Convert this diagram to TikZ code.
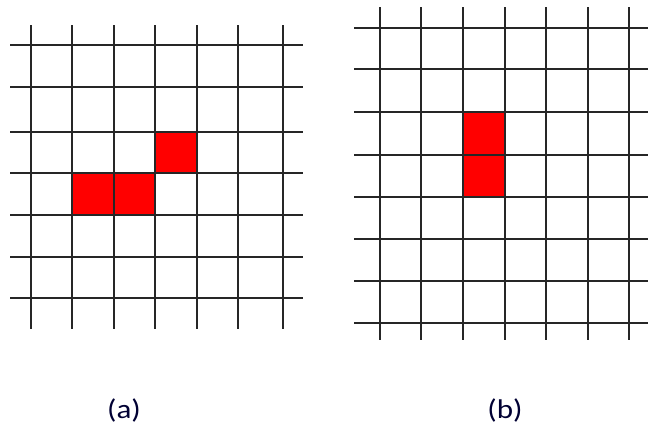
\documentclass[tikz,border=0pt]{standalone}
\usepackage{fontspec}
\setmainfont{Carlito}
\begin{document}
\begin{tikzpicture}[x=1pt,y=-1pt,
  gridline/.style={line width=2pt,black!85},
  cell/.style={fill=red,draw=none},
  caption/.style={font=\fontsize{27}{30}\selectfont,text=black!80!blue,xscale=1.15}]
\useasboundingbox (0,0) rectangle (648,432);
% grid (a)
\fill[cell] (73,173) rectangle (156,215);
\fill[cell] (156,131.7) rectangle (197,173);
\foreach \x in {30.7,72.3,113.7,155.3,196.7,238.3,283}
  \draw[gridline] (\x,25) -- (\x,329);
\foreach \y in {45,87.3,131.7,173,215,256.7,298}
  \draw[gridline] (10,\y) -- (303,\y);
% grid (b)
\fill[cell] (463,111.7) rectangle (504.7,196.7);
\foreach \x in {379.7,421.3,463,504.7,546.3,587.7,629.3}
  \draw[gridline] (\x,7) -- (\x,340);
\foreach \y in {27.7,69.3,111.7,155,196.7,239.3,281,322.7}
  \draw[gridline] (354,\y) -- (650,\y);
% captions
\node[caption] (capa) at (124,410) {(a)};
\node[caption] (capb) at (505,410) {(b)};
\end{tikzpicture}
\end{document}
